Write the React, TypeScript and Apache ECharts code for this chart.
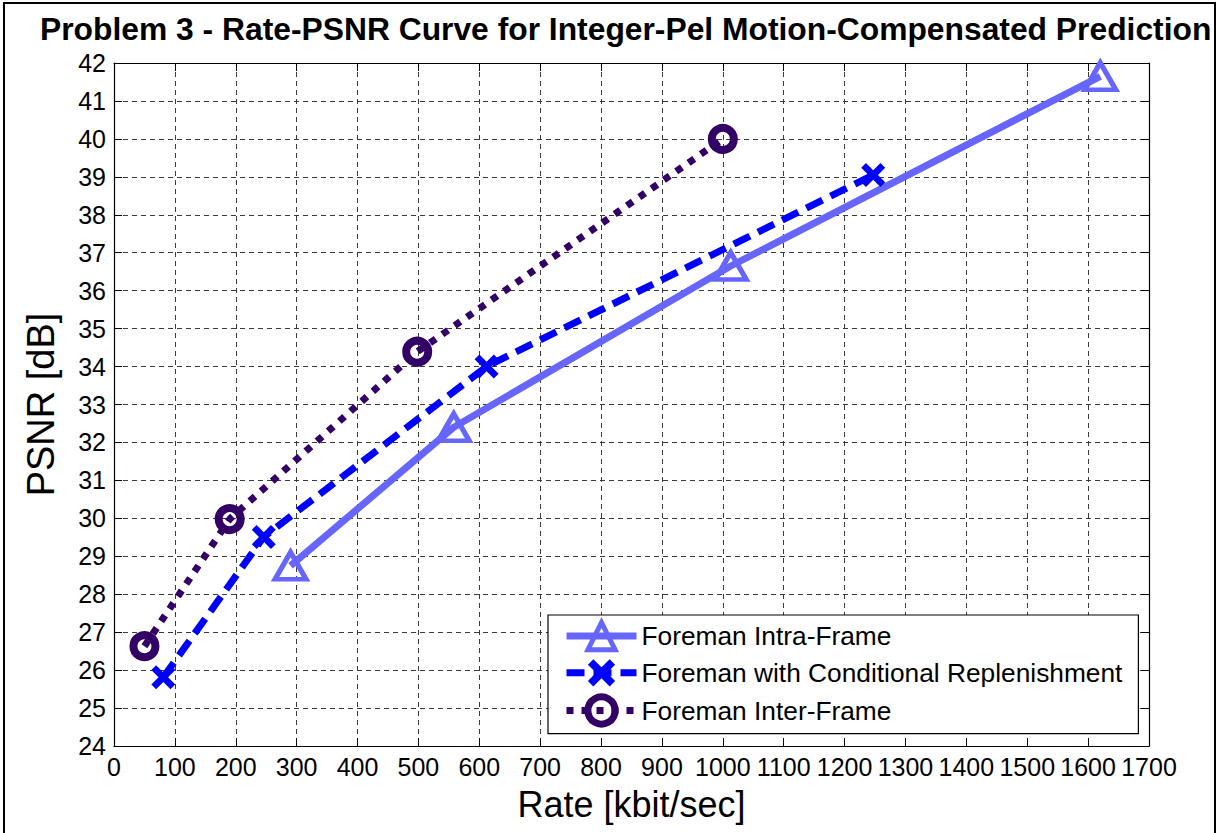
import React, { useEffect, useRef } from "react";
import * as echarts from "echarts";

const FONT = "'Liberation Sans', Arial, Helvetica, sans-serif";

const titleText = "Problem 3 - Rate-PSNR Curve for Integer-Pel Motion-Compensated Prediction";
const xAxisName = "Rate [kbit/sec]";
const yAxisName = "PSNR [dB]";

const seriesNames = [
  "Foreman Intra-Frame",
  "Foreman with Conditional Replenishment",
  "Foreman Inter-Frame",
];

const rateIntra = [290, 558, 1013, 1620];
const psnrIntra = [28.75, 32.4, 36.65, 41.65];

const rateCR = [81, 246, 612, 1247];
const psnrCR = [25.81, 29.51, 34.0, 39.05];

const rateInter = [50, 190, 498, 1000];
const psnrInter = [26.63, 29.98, 34.39, 40.0];

const xMin = 0;
const xMax = 1700;
const xStep = 100;
const yMin = 24;
const yMax = 42;
const yStep = 1;

const colorIntra = "#6666ff";
const colorCR = "#0000ff";
const colorInter = "#330066";

const xPath = "path://M2,0 L5,3 L8,0 L10,2 L7,5 L10,8 L8,10 L5,7 L2,10 L0,8 L3,5 L0,2 Z";

const zip = (xs: number[], ys: number[]) => xs.map((x, i) => [x, ys[i]]);

export default function App() {
  const ref = useRef<HTMLDivElement>(null);

  useEffect(() => {
    if (!ref.current) return;
    const chart = echarts.init(ref.current, null, { renderer: "svg" });

    const gridLine = { show: true, lineStyle: { color: "#3a3a3a", type: [5, 4], width: 1 } };
    const axisLine = { show: true, onZero: false, lineStyle: { color: "#000", width: 1.2 } };
    const tick = { show: true, inside: true, length: 8, lineStyle: { color: "#000", width: 1 } };
    const label = {
      color: "#000",
      fontSize: 25,
      fontFamily: FONT,
      showMinLabel: true,
      showMaxLabel: true,
      hideOverlap: false,
      formatter: (v: number) => String(v),
    };

    chart.setOption({
      animation: false,
      backgroundColor: "#fff",
      title: {
        text: titleText,
        left: 40,
        top: 13,
        padding: 0,
        textStyle: { fontSize: 31.8, fontWeight: "bold", fontFamily: FONT, color: "#000" },
      },
      graphic: [
        {
          type: "rect",
          shape: { x: 4, y: 3, width: 1211, height: 832 },
          style: { fill: "none", stroke: "#000", lineWidth: 2 },
          silent: true,
          z: -1,
        },
      ],
      grid: { left: 114, right: 68, top: 63, bottom: 87, containLabel: false },
      legend: {
        orient: "vertical",
        left: 548,
        top: 615,
        padding: [5, 16, 6, 15],
        itemWidth: 70,
        itemHeight: 34,
        itemGap: 7,
        backgroundColor: "#fff",
        borderColor: "#000",
        borderWidth: 1.2,
        textStyle: { fontSize: 26.3, fontFamily: FONT, color: "#000" },
        data: [
          { name: seriesNames[0], itemStyle: { borderWidth: 5 }, lineStyle: { width: 7 } },
          { name: seriesNames[1], itemStyle: { borderWidth: 0 }, lineStyle: { width: 7 } },
          { name: seriesNames[2], itemStyle: { borderWidth: 7 }, lineStyle: { width: 7 } },
        ],
      },
      xAxis: [
        {
          type: "value",
          min: xMin,
          max: xMax,
          interval: xStep,
          name: xAxisName,
          nameLocation: "middle",
          nameGap: 40,
          nameTextStyle: { fontSize: 36, fontFamily: FONT, color: "#000" },
          axisLine,
          axisTick: tick,
          axisLabel: { ...label, margin: 8 },
          splitLine: gridLine,
        },
        {
          type: "value",
          position: "top",
          min: xMin,
          max: xMax,
          interval: xStep,
          axisLine,
          axisTick: tick,
          axisLabel: { show: false },
          splitLine: { show: false },
        },
      ],
      yAxis: [
        {
          type: "value",
          min: yMin,
          max: yMax,
          interval: yStep,
          name: yAxisName,
          nameLocation: "middle",
          nameGap: 54,
          nameTextStyle: { fontSize: 38, fontFamily: FONT, color: "#000" },
          axisLine,
          axisTick: tick,
          axisLabel: { ...label, margin: 8 },
          splitLine: gridLine,
        },
        {
          type: "value",
          position: "right",
          min: yMin,
          max: yMax,
          interval: yStep,
          axisLine,
          axisTick: tick,
          axisLabel: { show: false },
          splitLine: { show: false },
        },
      ],
      series: [
        {
          name: seriesNames[0],
          type: "line",
          data: zip(rateIntra, psnrIntra),
          symbol: "triangle",
          symbolSize: [31, 27],
          showSymbol: true,
          lineStyle: { color: colorIntra, width: 7, type: "solid" },
          itemStyle: { color: "transparent", borderColor: colorIntra, borderWidth: 5, borderJoin: "miter" },
          z: 2,
        },
        {
          name: seriesNames[1],
          type: "line",
          data: zip(rateCR, psnrCR),
          symbol: xPath,
          symbolSize: 24,
          showSymbol: true,
          lineStyle: { color: colorCR, width: 7, type: [18, 9] },
          itemStyle: { color: colorCR, borderWidth: 0 },
          z: 3,
        },
        {
          name: seriesNames[2],
          type: "line",
          data: zip(rateInter, psnrInter),
          symbol: "circle",
          symbolSize: 22,
          showSymbol: true,
          lineStyle: { color: colorInter, width: 7, type: [7, 8] },
          itemStyle: { color: "transparent", borderColor: colorInter, borderWidth: 8 },
          z: 4,
        },
      ],
    });

    return () => chart.dispose();
  }, []);

  return (
    <div
      ref={ref}
      style={{ position: "fixed", left: 0, top: 0, width: 1217, height: 833, background: "#fff" }}
    />
  );
}
